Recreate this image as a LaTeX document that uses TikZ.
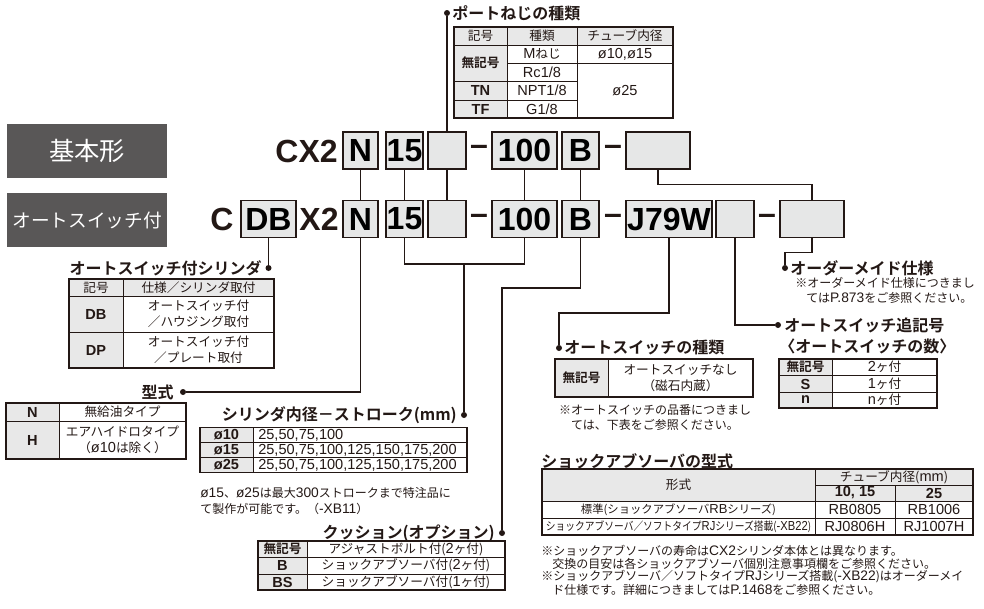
\documentclass[tikz,border=0pt]{standalone}
\usepackage{fontspec}
\usepackage{graphicx}
\setmainfont{Noto Sans CJK JP}[BoldFont={Noto Sans CJK JP Bold}]
\newfontfamily\codefont{Liberation Sans}
\newfontfamily\latfont{Liberation Sans}[Scale=1.15]
\newcommand{\lat}[1]{{\latfont #1}}
\definecolor{ink}{HTML}{231815}
\definecolor{panel}{HTML}{595757}
\definecolor{boxgray}{HTML}{E6E7E7}
\definecolor{cellgray}{HTML}{E8E8E8}

\begin{document}
\begin{tikzpicture}[x=0.75pt, y=-0.75pt,
		code_box/.style={draw=ink, fill=boxgray, line width=1.1pt, minimum height=27.75pt, inner sep=0pt, font=\codefont\bfseries\fontsize{24}{24}\selectfont},
		code_text/.style={inner sep=0pt, text=ink, font=\codefont\bfseries\fontsize{24}{24}\selectfont},
		panel_box/.style={fill=panel, text=white, minimum width=120pt, minimum height=40.5pt, inner sep=0pt},
		edge_style/.style={draw=ink, line width=1.1pt},
		dot/.style={circle, fill=ink, inner sep=0pt, minimum size=4.5pt},
		head_text/.style={inner sep=0pt, text=ink, font=\fontsize{12}{14}\selectfont\bfseries},
		cell/.style={inner sep=0pt, align=center, text=ink, font=\fontsize{9.5}{12}\selectfont},
		key_cell/.style={cell, font=\fontsize{9.5}{12}\selectfont\bfseries},
		note/.style={inner sep=0pt, align=left, text=ink, font=\fontsize{9}{11}\selectfont},
		cell_fill/.style={fill=cellgray},
		grid_line/.style={draw=ink, line width=0.5pt},
		frame_line/.style={draw=ink, line width=0.8pt}]
		\useasboundingbox (0,0) rectangle (984,608);

		% panels on the left
		\node[panel_box, font=\fontsize{19}{19}\selectfont] (basic) at (87,151) {基本形};
		\node[panel_box, font=\fontsize{14}{14}\selectfont] (withsw) at (87,220) {オートスイッチ付};

		% top row: CX2
		\node[code_text, anchor=east] (t_model) at (338,151) {CX2};
		\node[code_box, minimum width=26.25pt] (t_mount) at (360.5,150.5) {N};
		\node[code_box, minimum width=27.75pt] (t_bore) at (404.5,150.5) {15};
		\node[code_box, minimum width=28.5pt] (t_port) at (447,150.5) {};
		\node[code_text] (t_dash1) at (479,150.5) {–};
		\node[code_box, minimum width=48.75pt] (t_stroke) at (524.5,150.5) {100};
		\node[code_box, minimum width=27.75pt] (t_cush) at (580.5,150.5) {B};
		\node[code_text] (t_dash2) at (613,150.5) {–};
		\node[code_box, minimum width=48pt] (t_order) at (658,150.5) {};

		% bottom row: CDBX2
		\node[code_text] (b_c) at (222,219) {C};
		\node[code_box, minimum width=41.25pt] (b_cyl) at (268.5,219) {DB};
		\node[code_text] (b_model) at (319,219) {X2};
		\node[code_box, minimum width=26.25pt] (b_mount) at (360.5,219) {N};
		\node[code_box, minimum width=27.75pt] (b_bore) at (404.5,219) {15};
		\node[code_box, minimum width=28.5pt] (b_port) at (447,219) {};
		\node[code_text] (b_dash1) at (479,219) {–};
		\node[code_box, minimum width=48.75pt] (b_stroke) at (524.5,219) {100};
		\node[code_box, minimum width=27.75pt] (b_cush) at (580.5,219) {B};
		\node[code_text] (b_dash2) at (613,219) {–};
		\node[code_box, minimum width=64.5pt] (b_sw) at (669,219) {J79W};
		\node[code_box, minimum width=28.5pt] (b_num) at (735,219) {};
		\node[code_text] (b_dash3) at (767,219) {–};
		\node[code_box, minimum width=48pt] (b_order) at (812,219) {};

		% dots and headings
		\node[dot] (d_port) at (447,13) {};
		\node[head_text, anchor=west] (h_port) at (452,13) {ポートねじの種類};
		\node[dot] (d_cyl) at (268.5,268) {};
		\node[head_text, anchor=east] (h_cyl) at (262,268) {オートスイッチ付シリンダ};
		\node[dot] (d_type) at (183,392) {};
		\node[head_text, anchor=east] (h_type) at (174,392) {型式};
		\node[dot] (d_bore) at (464,415) {};
		\node[head_text, anchor=east] (h_bore) at (457,415) {シリンダ内径－ストローク(mm)};
		\node[dot] (d_cush) at (502,533) {};
		\node[head_text, anchor=east] (h_cush) at (495,533) {クッション(オプション)};
		\node[dot] (d_sw) at (559,348) {};
		\node[head_text, anchor=west] (h_sw) at (564,348) {オートスイッチの種類};
		\node[dot] (d_num) at (778,325) {};
		\node[head_text, anchor=west] (h_num) at (784,325) {オートスイッチ追記号};
		\node[head_text, anchor=west] (h_num2) at (779,346) {〈オートスイッチの数〉};
		\node[dot] (d_order) at (785,268) {};
		\node[head_text, anchor=west] (h_order) at (790,268) {オーダーメイド仕様};
		\node[head_text, anchor=west] (h_shock) at (541,461) {ショックアブソーバの型式};

		% connectors
		\draw[edge_style] (d_port) -- (t_port.north);
		\draw[edge_style] (t_port) edge (b_port);
		\draw[edge_style] (t_mount) edge (b_mount);
		\draw[edge_style] (t_bore) edge (b_bore);
		\draw[edge_style] (t_stroke) edge (b_stroke);
		\draw[edge_style] (t_cush) edge (b_cush);
		\draw[edge_style] (t_order.south) -- ++(0,15) -| (b_order.north);
		\draw[edge_style] (b_cyl.south) -- (d_cyl);
		\draw[edge_style] (b_mount.south) |- (d_type);
		\coordinate (j_bore) at (464,264);
		\draw[edge_style] (b_bore.south) |- (j_bore) -| (b_stroke.south);
		\draw[edge_style] (j_bore) -- (d_bore);
		\coordinate (j_cush) at (502,288);
		\draw[edge_style] (b_cush.south) |- (j_cush) -- (d_cush);
		\coordinate (j_sw) at (559,313);
		\draw[edge_style] (b_sw.south) |- (j_sw) -- (d_sw);
		\draw[edge_style] (b_num.south) |- (d_num);
		\draw[edge_style] (b_order.south) -- ++(0,14) -| (d_order);

		% port table
		\fill[cell_fill] (454,27) rectangle (673,45) (454,45) rectangle (507,118);
		\draw[grid_line] (454,45) -- (673,45) (507,27) -- (507,118) (577,27) -- (577,118) (507,63) -- (673,63) (454,81) -- (577,81) (454,100) -- (577,100);
		\draw[frame_line] (454,27) rectangle (673,118);
		\node[cell] (p_h1) at (480.5,36) {記号};
		\node[cell] (p_h2) at (542,36) {種類};
		\node[cell] (p_h3) at (625,36) {チューブ内径};
		\node[key_cell] (p_k1) at (480.5,63) {無記号};
		\node[key_cell] (p_k2) at (480.5,90.5) {\lat{TN}};
		\node[key_cell] (p_k3) at (480.5,109) {\lat{TF}};
		\node[cell] (p_t1) at (542,54) {\lat{M}ねじ};
		\node[cell] (p_t2) at (542,72) {\lat{Rc1/8}};
		\node[cell] (p_t3) at (542,90.5) {\lat{NPT1/8}};
		\node[cell] (p_t4) at (542,109) {\lat{G1/8}};
		\node[cell] (p_d1) at (625,54) {\lat{ø10,ø15}};
		\node[cell] (p_d2) at (625,90.5) {\lat{ø25}};

		% cylinder table
		\fill[cell_fill] (69,279) rectangle (274,296) (69,296) rectangle (123,368);
		\draw[grid_line] (69,296) -- (274,296) (69,332) -- (274,332) (123,279) -- (123,368);
		\draw[frame_line] (69,279) rectangle (274,368);
		\node[cell] (c_h1) at (96,287.5) {記号};
		\node[cell] (c_h2) at (198.5,287.5) {仕様／シリンダ取付};
		\node[key_cell] (c_k1) at (96,314) {\lat{DB}};
		\node[cell] (c_v1) at (198.5,314) {オートスイッチ付\\／ハウジング取付};
		\node[key_cell] (c_k2) at (96,350) {\lat{DP}};
		\node[cell] (c_v2) at (198.5,350) {オートスイッチ付\\／プレート取付};

		% type table
		\fill[cell_fill] (6,403) rectangle (59,459);
		\draw[grid_line] (6,421) -- (186,421) (59,403) -- (59,459);
		\draw[frame_line] (6,403) rectangle (186,459);
		\node[key_cell] (y_k1) at (32.5,412) {\lat{N}};
		\node[cell] (y_v1) at (122.5,412) {無給油タイプ};
		\node[key_cell] (y_k2) at (32.5,440) {\lat{H}};
		\node[cell] (y_v2) at (122.5,440) {エアハイドロタイプ\\（\lat{ø10}は除く）};

		% bore table
		\fill[cell_fill] (200,427.5) rectangle (253,472.5);
		\draw[grid_line] (200,442.5) -- (467,442.5) (200,457.5) -- (467,457.5) (253,427.5) -- (253,472.5);
		\draw[frame_line] (200,427.5) rectangle (467,472.5);
		\node[key_cell] (s_k1) at (226.5,435) {\lat{ø10}};
		\node[key_cell] (s_k2) at (226.5,450) {\lat{ø15}};
		\node[key_cell] (s_k3) at (226.5,465) {\lat{ø25}};
		\node[cell, anchor=west] (s_v1) at (258,435) {\lat{25,50,75,100}};
		\node[cell, anchor=west] (s_v2) at (258,450) {\lat{25,50,75,100,125,150,175,200}};
		\node[cell, anchor=west] (s_v3) at (258,465) {\lat{25,50,75,100,125,150,175,200}};
		\node[note, anchor=west] (s_n1) at (200,493) {\lat{ø15}、\lat{ø25}は最大\lat{300}ストロークまで特注品に};
		\node[note, anchor=west] (s_n2) at (200,509) {て製作が可能です。（\lat{-XB11}）};

		% cushion table
		\fill[cell_fill] (258,541) rectangle (307,590);
		\draw[grid_line] (258,557) -- (505,557) (258,574) -- (505,574) (307,541) -- (307,590);
		\draw[frame_line] (258,541) rectangle (505,590);
		\node[key_cell] (k_k1) at (282.5,549) {無記号};
		\node[cell] (k_v1) at (406,549) {アジャストボルト付(\lat{2}ヶ付)};
		\node[key_cell] (k_k2) at (282.5,565.5) {\lat{B}};
		\node[cell] (k_v2) at (406,565.5) {ショックアブソーバ付(\lat{2}ヶ付)};
		\node[key_cell] (k_k3) at (282.5,582) {\lat{BS}};
		\node[cell] (k_v3) at (406,582) {ショックアブソーバ付(\lat{1}ヶ付)};

		% switch table
		\fill[cell_fill] (555,359) rectangle (608,397);
		\draw[grid_line] (608,359) -- (608,397);
		\draw[frame_line] (555,359) rectangle (753,397);
		\node[key_cell] (w_k1) at (581.5,378) {無記号};
		\node[cell] (w_v1) at (680.5,378) {オートスイッチなし\\（磁石内蔵）};
		\node[note, align=center] (w_n1) at (655,410) {※オートスイッチの品番につきまし};
		\node[note, align=center] (w_n2) at (655,425) {ては、下表をご参照ください。};

		% switch count table
		\fill[cell_fill] (779,359) rectangle (832,408);
		\draw[grid_line] (779,375.5) -- (937,375.5) (779,392) -- (937,392) (832,359) -- (832,408);
		\draw[frame_line] (779,359) rectangle (937,408);
		\node[key_cell] (n_k1) at (805.5,367) {無記号};
		\node[cell] (n_v1) at (884.5,367) {\lat{2}ヶ付};
		\node[key_cell] (n_k2) at (805.5,384) {\lat{S}};
		\node[cell] (n_v2) at (884.5,384) {\lat{1}ヶ付};
		\node[key_cell] (n_k3) at (805.5,400) {\lat{n}};
		\node[cell] (n_v3) at (884.5,400) {\lat{n}ヶ付};

		% made to order notes
		\node[note, anchor=west] (o_n1) at (795,283) {※オーダーメイド仕様につきまし};
		\node[note, anchor=west] (o_n2) at (806,298) {ては\lat{P.873}をご参照ください。};

		% shock absorber table
		\fill[cell_fill] (542,469) rectangle (973,501);
		\draw[grid_line] (815,485) -- (973,485) (542,501) -- (973,501) (542,518) -- (973,518) (815,469) -- (815,535) (895,485) -- (895,535);
		\draw[frame_line] (542,469) rectangle (973,535);
		\node[cell] (a_h1) at (678.5,485) {形式};
		\node[cell] (a_h2) at (894,477) {チューブ内径(\lat{mm})};
		\node[key_cell] (a_h3) at (855,493) {\lat{10, 15}};
		\node[key_cell] (a_h4) at (934,493) {\lat{25}};
		\node[cell, font=\fontsize{8.5}{10}\selectfont] (a_r1) at (678.5,509.5) {標準(ショックアブソーバ\lat{RB}シリーズ)};
		\node[cell] (a_v1) at (855,509.5) {\lat{RB0805}};
		\node[cell] (a_v2) at (934,509.5) {\lat{RB1006}};
		\node[cell, font=\fontsize{8.5}{10}\selectfont] (a_r2) at (678.5,526.5) {\scalebox{0.86}[1]{ショックアブソーバ／ソフトタイプ\lat{RJ}シリーズ搭載(\lat{-XB22})}};
		\node[cell] (a_v3) at (855,526.5) {\lat{RJ0806H}};
		\node[cell] (a_v4) at (934,526.5) {\lat{RJ1007H}};
		\node[note, anchor=west] (a_n1) at (541,551) {※ショックアブソーバの寿命は\lat{CX2}シリンダ本体とは異なります。};
		\node[note, anchor=west] (a_n2) at (552,564) {交換の目安は各ショックアブソーバ個別注意事項欄をご参照ください。};
		\node[note, anchor=west] (a_n3) at (541,577) {※ショックアブソーバ／ソフトタイプ\lat{RJ}シリーズ搭載(\lat{-XB22})はオーダーメイ};
		\node[note, anchor=west] (a_n4) at (552,590) {ド仕様です。詳細につきましては\lat{P.1468}をご参照ください。};

\end{tikzpicture}
\end{document}
